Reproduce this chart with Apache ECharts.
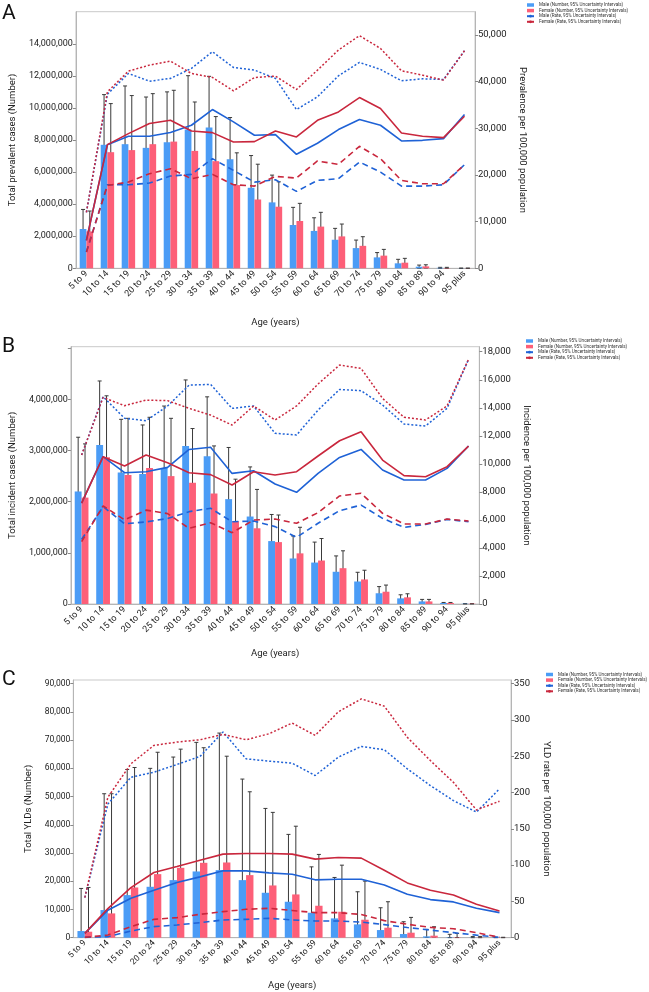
<!DOCTYPE html>
<html><head><meta charset="utf-8">
<script src="https://cdn.jsdelivr.net/npm/echarts@6/dist/echarts.min.js"></script>
<style>html,body{margin:0;padding:0;background:#fff}#c{width:649px;height:992px}</style>
</head><body><div id="c"></div>
<script>
const ages = ['5 to 9','10 to 14','15 to 19','20 to 24','25 to 29','30 to 34','35 to 39','40 to 44','45 to 49','50 to 54','55 to 59','60 to 64','65 to 69','70 to 74','75 to 79','80 to 84','85 to 89','90 to 94','95 plus'];

// ---------- Panel A: prevalence ----------
const prevMaleNum   = [2450000,7700000,7740000,7510000,7860000,8650000,8780000,6800000,5020000,4110000,2700000,2330000,1780000,1260000,680000,310000,100000,30000,5000];
const prevMaleLo    = [1400000,5170000,4880000,4830000,5330000,5600000,5560000,4500000,3320000,2740000,1800000,1660000,1140000,830000,410000,100000,10000,0,0];
const prevMaleHi    = [3670000,10830000,11370000,10680000,11000000,12010000,11970000,9400000,7030000,5810000,3800000,3150000,2490000,1760000,980000,560000,200000,60000,10000];
const prevFemaleNum = [2300000,7240000,7370000,7740000,7900000,7320000,6680000,5190000,4290000,3840000,2950000,2600000,1990000,1400000,790000,350000,120000,20000,5000];
const prevFemaleLo  = [1310000,4880000,4710000,5120000,5370000,4810000,4610000,3420000,2740000,2530000,2010000,1830000,1240000,930000,480000,170000,20000,0,0];
const prevFemaleHi  = [3570000,10270000,10770000,10890000,11100000,10370000,9460000,7200000,6490000,5390000,4050000,3490000,2760000,1970000,1180000,620000,220000,60000,10000];
const prevMaleRate    = [6000,26500,28300,28300,29100,30660,34030,31380,28510,28650,24430,26800,29730,31880,30660,27290,27430,27790,32950];
const prevMaleRateLo  = [3500,17900,17900,18270,19770,20130,23500,20990,18480,18980,16480,18840,19200,22780,20630,17620,17620,17910,22210];
const prevMaleRateHi  = [12000,37320,41760,40110,40690,42840,46420,43050,42480,40690,34030,36750,41260,44130,42620,40190,40620,40470,46630];
const prevFemaleRate   = [6000,26500,28870,31020,31730,29440,29080,27080,27150,29440,28150,31730,33520,36600,34240,29010,28300,28010,32590];
const prevFemaleRateLo = [3500,17770,18480,20270,21350,19200,20130,17910,17620,19700,19340,23000,22280,26150,23500,18840,18120,18120,22210];
const prevFemaleRateHi = [12000,37820,42260,43550,44410,41760,40900,38040,40900,41190,38320,42480,46780,49860,47130,42340,41400,40330,46630];

// ---------- Panel B: incidence ----------
const incMaleNum   = [2200000,3110000,2570000,2540000,2660000,3090000,2890000,2050000,1710000,1230000,890000,810000,630000,440000,210000,110000,50000,20000,5000];
const incMaleLo    = [1370000,2250000,1560000,1590000,1660000,1820000,1750000,1250000,1060000,790000,520000,470000,380000,260000,110000,70000,30000,10000,2000];
const incMaleHi    = [3260000,4360000,3610000,3500000,3870000,4380000,4050000,3060000,2680000,1750000,1330000,1210000,940000,620000,340000,180000,90000,30000,8000];
const incFemaleNum = [2080000,2870000,2520000,2660000,2500000,2370000,2160000,1620000,1480000,1210000,990000,850000,700000,480000,240000,130000,50000,20000,5000];
const incFemaleLo  = [1280000,1870000,1530000,1710000,1590000,1330000,1330000,930000,910000,780000,570000,480000,350000,290000,120000,80000,30000,10000,2000];
const incFemaleHi  = [3130000,4070000,3630000,3650000,3630000,3430000,3090000,2440000,2240000,1740000,1500000,1280000,1040000,660000,370000,200000,90000,30000,8000];
const incMaleRate    = [7200,10510,9370,9440,9750,11030,11180,9320,9510,8560,7970,9320,10460,11030,9560,8850,8850,9680,11270];
const incMaleRateLo  = [4600,6940,5720,5860,6100,6590,6830,5870,5920,5520,4760,5760,6660,7060,6110,5470,5680,6040,5870];
const incMaleRateHi  = [10630,14790,13250,13080,14130,15620,15670,13960,14130,12180,12060,13840,15310,15220,14200,12840,12700,13960,17460];
const incFemaleRate   = [7200,10510,9850,10630,10080,9370,9230,8490,9440,9200,9440,10560,11650,12290,10270,9160,9080,9800,11270];
const incFemaleRateLo = [4450,7000,6000,6700,6450,5400,5800,5090,5990,6060,5760,6520,7710,7900,6470,5710,5710,6060,5920];
const incFemaleRateHi = [10630,14740,14150,14550,14510,13960,13480,12770,14130,13130,14130,15700,17050,16810,14670,13320,13130,14130,17460];

// ---------- Panel C: YLDs ----------
const yldMaleNum   = [2360,9790,15090,18040,20400,23470,23940,20400,15920,12740,8840,6840,4720,2710,1300,470,120,50,20];
const yldMaleLo    = [300,700,2950,4360,4830,6010,6370,5660,4720,3800,2480,1770,1060,590,350,100,30,10,5];
const yldMaleHi    = [17450,51000,59600,60000,64000,69200,72500,56200,45800,36600,25100,21340,16270,10610,5660,2950,1200,400,150];
const yldFemaleNum = [2120,8610,17800,22520,24760,26530,26650,22170,18510,15330,11320,9200,6370,3540,1770,710,120,50,20];
const yldFemaleLo  = [300,1500,4360,7080,7430,8370,8610,7670,6490,4720,3660,2710,1530,1060,710,200,50,10,5];
const yldFemaleHi  = [17800,51000,60300,65700,66800,67300,64300,51700,44400,39500,29500,25700,20050,12740,7190,3890,1500,450,150];
const yldMaleRate    = [6.0,37.8,54.3,65.4,76.0,83.8,92.1,92.1,89.3,87.5,79.7,80.6,80.6,72.7,59.9,52.5,49.3,40.5,34.5];
const yldMaleRateLo  = [0.5,1.4,9.2,15.2,17.5,20.7,24.4,25.3,26.7,24.5,23.0,23.0,21.5,18.0,14.0,10.5,7.0,3.5,0.5];
const yldMaleRateHi  = [55.3,184,221,228,238.6,249.7,283.3,246.4,243.2,240.4,223.4,248.7,263.5,258.9,232.6,209.6,188.9,173,205];
const yldFemaleRate   = [6.0,40.0,69.0,89.8,98.0,106.8,115.1,116.0,116.0,115.1,108.2,110.5,109.6,93.0,75.5,65.4,58.9,46.0,36.8];
const yldFemaleRateLo = [0.5,3.7,15.2,25.3,27.6,32.2,35.9,39.1,40.5,37.5,34.5,34.5,32.0,23.5,18.5,14.2,12.4,6.9,0.7];
const yldFemaleRateHi = [55.3,193.5,239.5,264.9,269.5,272.7,280,272.7,281,295.7,278.7,311,329,319,276,244,214,176,188];

const NM = 'Male (Number, 95% Uncertainty Intervals)';
const NF = 'Female (Number, 95% Uncertainty Intervals)';
const RM = 'Male (Rate, 95% Uncertainty Intervals)';
const RF = 'Female (Rate, 95% Uncertainty Intervals)';

const C_MBAR = '#4b9cf6', C_FBAR = '#fd5f78', C_MLINE = '#1f62d6', C_FLINE = '#c9273d';
const FONT = 'Roboto';
const fmtUpTo = lim => (v => v > lim ? '' : Math.round(v).toLocaleString('en-US'));

function errRender(side) {
  return function (params, api) {
    const i = api.value(0);
    const lo = api.coord([i, api.value(1)]);
    const hi = api.coord([i, api.value(2)]);
    const bw = api.size([1, 0])[0];
    const x = lo[0] + side * bw * 0.16;
    const cap = 2;
    const style = { stroke: '#3a3a3a', lineWidth: 1 };
    return { type: 'group', children: [
      { type: 'line', shape: { x1: x, y1: lo[1], x2: x, y2: hi[1] }, style },
      { type: 'line', shape: { x1: x - cap, y1: hi[1], x2: x + cap, y2: hi[1] }, style },
      { type: 'line', shape: { x1: x - cap, y1: lo[1], x2: x + cap, y2: lo[1] }, style }
    ] };
  };
}

const grids = [], xAxes = [], yAxes = [], series = [], legends = [];

function panel(p, cfg) {
  const gi = grids.length;
  grids.push({ left: cfg.grid[0], top: cfg.grid[1], width: cfg.grid[2], height: cfg.grid[3],
    show: true, borderColor: '#c9c9c9', borderWidth: 1, backgroundColor: 'transparent' });
  xAxes.push({ type: 'category', gridIndex: gi, data: ages,
    axisLine: { lineStyle: { color: '#b5b5b5' } }, axisTick: { show: false },
    axisLabel: { interval: 0, rotate: 45, fontSize: cfg.xfs, color: '#222', fontFamily: FONT, margin: 4 },
    name: 'Age (years)', nameLocation: 'middle', nameGap: cfg.xGap,
    nameTextStyle: { fontSize: 9.5, color: '#222', fontFamily: FONT } });
  const yl = yAxes.length;
  yAxes.push({ type: 'value', gridIndex: gi, position: 'left', min: 0, max: cfg.lMax, interval: cfg.lInt,
    axisLine: { show: true, lineStyle: { color: '#b5b5b5' } },
    axisTick: { show: true, length: 3, lineStyle: { color: '#888' } },
    splitLine: { show: false },
    axisLabel: { formatter: fmtUpTo(cfg.lLab), fontSize: cfg.yfs, color: '#222', fontFamily: FONT, margin: 3, showMaxLabel: false },
    name: cfg.lName, nameLocation: 'middle', nameGap: cfg.lGap,
    nameTextStyle: { fontSize: 9.5, color: '#222', fontFamily: FONT } });
  yAxes.push({ type: 'value', gridIndex: gi, position: 'right', min: 0, max: cfg.rMax, interval: cfg.rInt,
    axisLine: { show: true, lineStyle: { color: '#b5b5b5' } },
    axisTick: { show: true, length: 3, lineStyle: { color: '#888' } },
    splitLine: { show: false },
    axisLabel: { formatter: fmtUpTo(cfg.rLab), fontSize: cfg.rfs, color: '#222', fontFamily: FONT, margin: 3, showMaxLabel: false },
    name: cfg.rName, nameLocation: 'middle', nameGap: cfg.rGap, nameRotate: -90,
    nameTextStyle: { fontSize: 9.5, color: '#222', fontFamily: FONT } });
  const yr = yl + 1;
  series.push({ type: 'bar', name: NM, xAxisIndex: gi, yAxisIndex: yl, data: p.mN, barWidth: '32%', barGap: '0%', itemStyle: { color: C_MBAR } });
  series.push({ type: 'bar', name: NF, xAxisIndex: gi, yAxisIndex: yl, data: p.fN, barWidth: '32%', barGap: '0%', itemStyle: { color: C_FBAR } });
  series.push({ type: 'custom', name: 'err-m', xAxisIndex: gi, yAxisIndex: yl, renderItem: errRender(-1),
    encode: { x: 0, y: [1, 2] }, data: ages.map((a, i) => [i, p.mLo[i], p.mHi[i]]), silent: true });
  series.push({ type: 'custom', name: 'err-f', xAxisIndex: gi, yAxisIndex: yl, renderItem: errRender(1),
    encode: { x: 0, y: [1, 2] }, data: ages.map((a, i) => [i, p.fLo[i], p.fHi[i]]), silent: true });
  const line = (name, data, color, type, w) => ({ type: 'line', name, xAxisIndex: gi, yAxisIndex: yr, data,
    symbol: 'none', lineStyle: { color, width: w, type }, itemStyle: { color }, z: 3, silent: true });
  series.push(line(RM, p.mR, C_MLINE, 'solid', 1.6));
  series.push(line(RF, p.fR, C_FLINE, 'solid', 1.6));
  series.push(line('m-lo', p.mRLo, C_MLINE, [6, 4], 1.6));
  series.push(line('f-lo', p.fRLo, C_FLINE, [6, 4], 1.6));
  series.push(line('m-hi', p.mRHi, C_MLINE, [2, 2], 1.5));
  series.push(line('f-hi', p.fRHi, C_FLINE, [2, 2], 1.5));
  legends.push({ orient: 'vertical', left: cfg.leg[0], top: cfg.leg[1], padding: 0, itemWidth: 7, itemHeight: 3.5,
    itemGap: 0.6, selectedMode: false,
    textStyle: { fontSize: 4.6, color: '#333', fontFamily: FONT },
    data: [{ name: NM, icon: 'rect' }, { name: NF, icon: 'rect' }, { name: RM }, { name: RF }] });
}

panel({ mN: prevMaleNum, mLo: prevMaleLo, mHi: prevMaleHi, fN: prevFemaleNum, fLo: prevFemaleLo, fHi: prevFemaleHi,
        mR: prevMaleRate, mRLo: prevMaleRateLo, mRHi: prevMaleRateHi, fR: prevFemaleRate, fRLo: prevFemaleRateLo, fRHi: prevFemaleRateHi },
  { grid: [67.7, 11.7, 407.3, 256.6], lMax: 16000000, lInt: 2000000, lLab: 14000000, rMax: 55000, rInt: 10000, rLab: 50000,
    lName: 'Total prevalent cases (Number)', rName: 'Prevalence per 100,000 population',
    lGap: 50, rGap: 41, xGap: 49, xfs: 9, yfs: 9, rfs: 9.5, leg: [526, 2.5] });

panel({ mN: incMaleNum, mLo: incMaleLo, mHi: incMaleHi, fN: incFemaleNum, fLo: incFemaleLo, fHi: incFemaleHi,
        mR: incMaleRate, mRLo: incMaleRateLo, mRHi: incMaleRateHi, fR: incFemaleRate, fRLo: incFemaleRateLo, fRHi: incFemaleRateHi },
  { grid: [66.7, 346.7, 412.6, 257.3], lMax: 5030000, lInt: 1000000, lLab: 4000000, rMax: 18360, rInt: 2000, rLab: 18000,
    lName: 'Total incident cases (Number)', rName: 'Incidence per 100,000 population',
    lGap: 50, rGap: 37, xGap: 45, xfs: 9, yfs: 9, rfs: 9.5, leg: [525, 338.5] });

panel({ mN: yldMaleNum, mLo: yldMaleLo, mHi: yldMaleHi, fN: yldFemaleNum, fLo: yldFemaleLo, fHi: yldFemaleHi,
        mR: yldMaleRate, mRLo: yldMaleRateLo, mRHi: yldMaleRateHi, fR: yldFemaleRate, fRLo: yldFemaleRateLo, fRHi: yldFemaleRateHi },
  { grid: [73.3, 680, 437.7, 257.7], lMax: 91300, lInt: 10000, lLab: 90000, rMax: 355, rInt: 50, rLab: 350,
    lName: 'Total YLDs (Number)', rName: 'YLD rate per 100,000 population',
    lGap: 38, rGap: 24, xGap: 43, xfs: 8.5, yfs: 8.5, rfs: 9.5, leg: [545, 672] });

const chart = echarts.init(document.getElementById('c'));
chart.setOption({
  animation: false,
  textStyle: { fontFamily: FONT },
  grid: grids, xAxis: xAxes, yAxis: yAxes, series, legend: legends,
  graphic: [
    { type: 'text', left: 2, top: 3, style: { text: 'A', fontSize: 21, fill: '#111', fontFamily: FONT } },
    { type: 'text', left: 2, top: 336, style: { text: 'B', fontSize: 21, fill: '#111', fontFamily: FONT } },
    { type: 'text', left: 2, top: 669, style: { text: 'C', fontSize: 21, fill: '#111', fontFamily: FONT } }
  ]
});
</script></body></html>
